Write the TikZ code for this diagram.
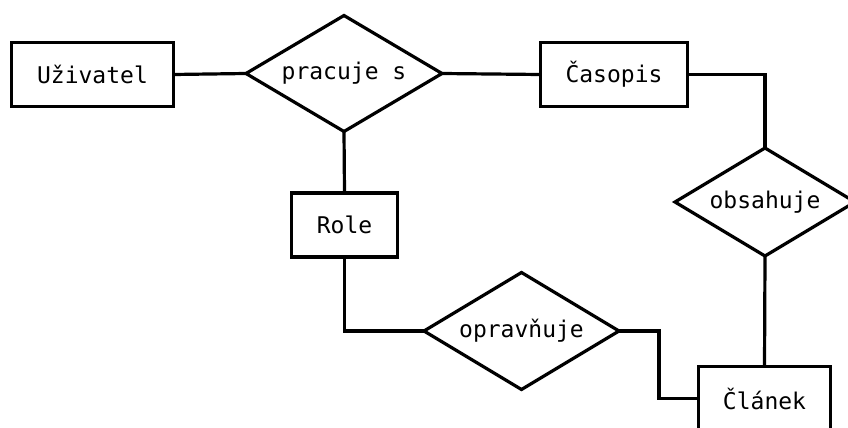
\documentclass[tikz,border=0pt]{standalone}
\usepackage{fontspec}
\setmonofont{DejaVu Sans Mono}
\usetikzlibrary{shapes.geometric}
\tikzset{
  entity/.style={draw, line width=3.2pt, inner sep=0pt, outer sep=0pt, minimum height=64pt, font=\ttfamily\fontsize{23}{27}\selectfont},
  relation/.style={draw, diamond, aspect=1.68, line width=3.2pt, inner sep=0pt, outer sep=0pt, font=\ttfamily\fontsize{23}{27}\selectfont, miter limit=20},
  conn/.style={line width=3.2pt}
}
\begin{document}
\begin{tikzpicture}[x=1pt,y=-1pt]
\useasboundingbox (0,0) rectangle (848,428);
\node[entity, minimum width=162pt] (uziv) at (92.5,74.5) {Uživatel};
\node[relation, minimum width=196pt, minimum height=116pt] (prac) at (344,73.5) {pracuje s};
\node[entity, minimum width=147pt] (cas) at (614,74.5) {Časopis};
\node[relation, minimum width=180pt, minimum height=108pt] (obs) at (765,202) {obsahuje};
\node[entity, minimum width=106pt] (role) at (344.5,225) {Role};
\node[relation, minimum width=195pt, minimum height=117pt] (opr) at (521.5,331) {opravňuje};
\node[entity, minimum width=132pt] (clan) at (764.5,398.8) {Článek};
\draw[conn] (uziv.east) -- (prac.west);
\draw[conn] (prac.east) -- (cas.west);
\draw[conn] (prac.south) -- (role.north);
\draw[conn] (cas.east) -| (obs.north);
\draw[conn] (obs.south) -- (clan.north);
\draw[conn] (role.south) |- (opr.west);
\coordinate (bend) at (659,331);
\draw[conn] (opr.east) -- (bend) |- (clan.west);
\end{tikzpicture}
\end{document}
